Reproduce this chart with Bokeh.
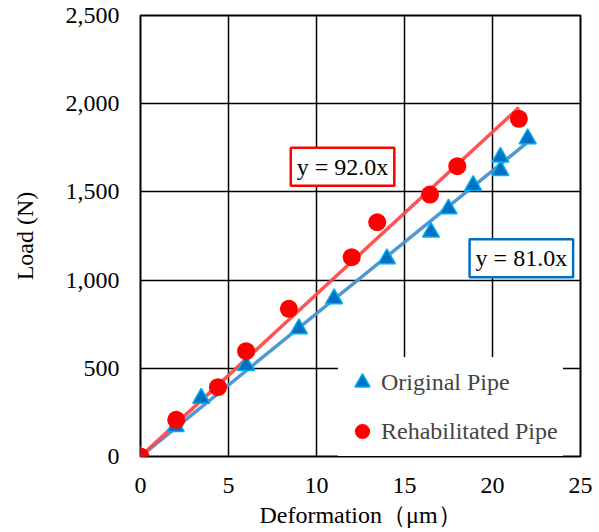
from bokeh.plotting import figure
from bokeh.models import FixedTicker, NumeralTickFormatter, Label, Legend, LegendItem
from bokeh.embed import file_html
from bokeh.resources import INLINE

# Data
orig_x = [0, 2.0, 3.45, 6.0, 9.0, 11.0, 14.0, 16.5, 17.5, 18.9, 20.45, 20.45, 22.0]
orig_y = [0, 170, 330, 516, 724, 894, 1121, 1272, 1404, 1536, 1621, 1697, 1801]
rehab_x = [0, 2.03, 4.4, 6.0, 8.43, 12.0, 13.45, 16.45, 18.0, 21.5]
rehab_y = [0, 208, 393, 597, 837, 1130, 1328, 1485, 1646, 1914]
orig_slope = 81.0
rehab_slope = 92.0
orig_fit_x = [0, 22.0]
rehab_fit_x = [0, 21.5]
x_ticks = [0, 5, 10, 15, 20, 25]
y_ticks = [0, 500, 1000, 1500, 2000, 2500]

FONT = "Liberation Serif"
FS = "24px"

p = figure(width=598, height=530, x_range=(0, 25), y_range=(0, 2500),
           output_backend="svg", toolbar_location=None,
           min_border_left=140, min_border_right=18, min_border_top=15, min_border_bottom=74)

p.outline_line_color = "black"
p.outline_line_width = 2
p.background_fill_color = "white"

for ax in (p.xaxis[0], p.yaxis[0]):
    ax.axis_line_color = None
    ax.major_tick_line_color = None
    ax.minor_tick_line_color = None
    ax.major_label_text_font = FONT
    ax.major_label_text_font_size = FS
    ax.major_label_text_color = "black"
    ax.axis_label_text_font = FONT
    ax.axis_label_text_font_size = FS
    ax.axis_label_text_font_style = "normal"
    ax.axis_label_text_color = "black"

p.xaxis.ticker = FixedTicker(ticks=x_ticks)
p.yaxis.ticker = FixedTicker(ticks=y_ticks)
p.yaxis.formatter = NumeralTickFormatter(format="0,0")
p.xaxis.axis_label = "Deformation（μm）"
p.yaxis.axis_label = "Load (N)"
p.xaxis.major_label_standoff = 15
p.xaxis.axis_label_standoff = 6
p.yaxis.major_label_standoff = 15
p.yaxis.axis_label_standoff = 25

p.xgrid.ticker = FixedTicker(ticks=x_ticks)
p.ygrid.ticker = FixedTicker(ticks=y_ticks)
for g in (p.xgrid[0], p.ygrid[0]):
    g.grid_line_color = "black"
    g.grid_line_width = 1.5

# Trend lines
p.line(orig_fit_x, [orig_slope * v for v in orig_fit_x], line_color="#4A90D0", line_width=3.5, line_alpha=0.95)
p.line(rehab_fit_x, [rehab_slope * v for v in rehab_fit_x], line_color="#FF4B4B", line_width=3.5, line_alpha=0.95)

tri = p.scatter(orig_x, orig_y, marker="triangle", size=17, fill_color="#0070C0",
                line_color="#00B0F0", line_width=1.5)
circ = p.scatter(rehab_x, rehab_y, marker="circle", size=18, fill_color="#FF0000",
                 line_color="#FF0000", line_width=0)

legend = Legend(items=[LegendItem(label="Original Pipe", renderers=[tri]),
                       LegendItem(label="Rehabilitated Pipe", renderers=[circ])],
                location=(198, 0), border_line_alpha=0, background_fill_color="white",
                background_fill_alpha=1, label_text_font=FONT, label_text_font_size=FS,
                glyph_width=38, glyph_height=40, label_standoff=0, spacing=9, padding=5,
                margin=0, label_height=40)
p.add_layout(legend, "center")

lab1 = Label(x=11.48, y=1642, text="y = 92.0x", text_align="center", text_baseline="middle",
             text_font=FONT, text_font_size=FS, text_color="black",
             border_line_color="#FF0000", border_line_width=2.5,
             background_fill_color="white", padding=6)
lab2 = Label(x=21.64, y=1124, text="y = 81.0x", text_align="center", text_baseline="middle",
             text_font=FONT, text_font_size=FS, text_color="black",
             border_line_color="#0070C0", border_line_width=2.5,
             background_fill_color="white", padding=6)
p.add_layout(lab1)
p.add_layout(lab2)

open("out.html", "w").write(file_html(p, INLINE))
